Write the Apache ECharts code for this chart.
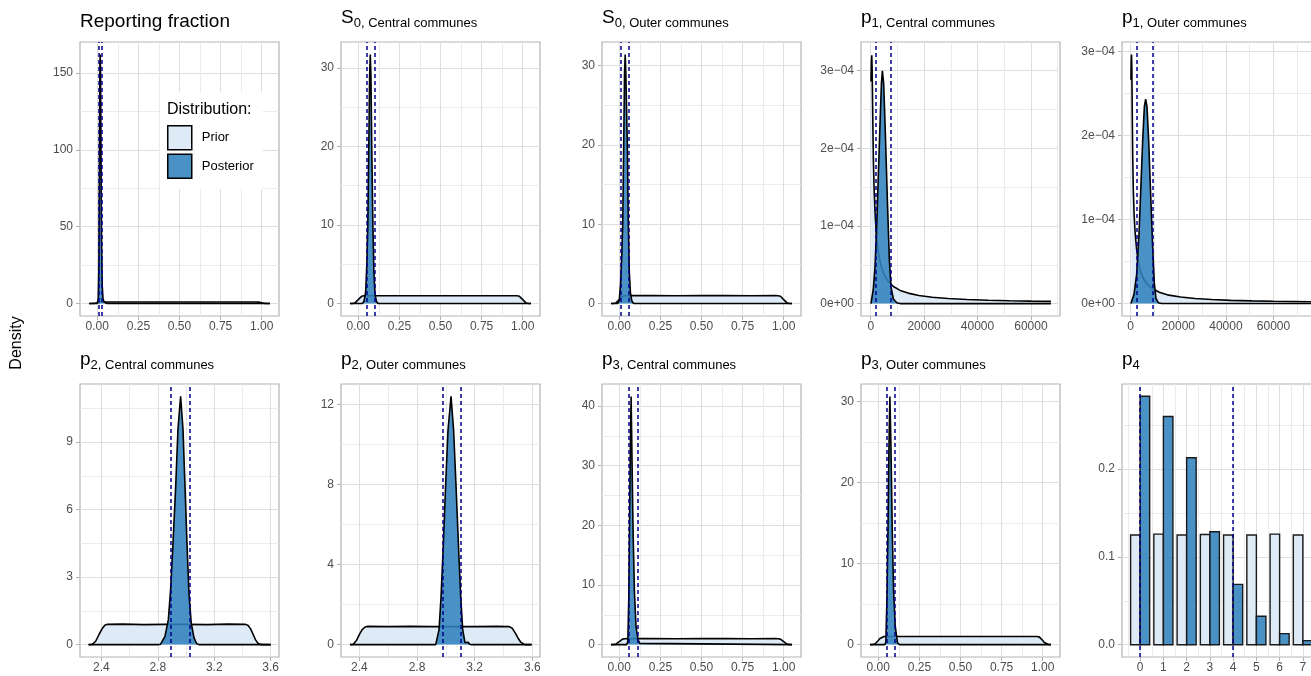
<!DOCTYPE html>
<html><head><meta charset="utf-8">
<script src="https://cdn.jsdelivr.net/npm/echarts@6/dist/echarts.min.js"></script>
<style>html,body{margin:0;padding:0;background:#fff}#c{width:1311px;height:676px}</style>
</head><body><div id="c"></div>
<script>
// ---------------- data ----------------
const priorUnit = [[-0.05,0],[-0.035,0.01],[-0.02,0.08],[-0.01,0.25],[0,0.5],[0.01,0.75],[0.02,0.92],[0.035,0.99],[0.05,1.0],[0.2,1.0],[0.35,0.99],[0.5,1.0],[0.65,1.0],[0.8,0.99],[0.95,1.0],[0.965,0.99],[0.98,0.92],[0.99,0.75],[1.0,0.5],[1.01,0.25],[1.02,0.08],[1.035,0.01],[1.05,0]];
const rfPost = [[-0.05,0],[0.0,0],[0.006,3],[0.01,25],[0.013,90],[0.016,155],[0.018,162],[0.02,150],[0.023,95],[0.026,40],[0.03,12],[0.035,3],[0.042,1],[0.05,0.3],[0.06,0],[1.05,0]];
const rfCI = [0.010, 0.030];
const s0cPost = [[-0.05,0],[0.025,0],[0.035,0.3],[0.045,1.5],[0.052,5],[0.058,10],[0.064,20],[0.069,29],[0.073,31.7],[0.077,29],[0.082,20],[0.089,10],[0.095,4],[0.102,1.2],[0.11,0.3],[0.12,0],[1.05,0]];
const s0cCI = [0.048, 0.097];
const s0oPost = [[-0.05,0],[-0.01,0],[0.0,0.4],[0.008,2.5],[0.015,6],[0.021,10],[0.027,20],[0.032,29],[0.036,31.4],[0.04,29],[0.049,20],[0.055,10],[0.061,4],[0.068,1.3],[0.077,0.3],[0.088,0],[1.05,0]];
const s0oCI = [0.015, 0.061];
const p1cPrior = [[100,2.86e-4],[250,3.12e-4],[400,3.2e-4],[550,3.0e-4],[750,2.45e-4],[1000,1.85e-4],[1300,1.45e-4],[1700,1.12e-4],[2200,0.86e-4],[3000,0.63e-4],[4000,0.47e-4],[5000,0.375e-4],[6500,0.29e-4],[8500,0.22e-4],[11000,0.17e-4],[14000,0.135e-4],[18000,0.105e-4],[23000,0.082e-4],[29000,0.065e-4],[36000,0.052e-4],[44000,0.043e-4],[52000,0.036e-4],[60000,0.031e-4],[67500,0.028e-4]];
const p1cPost = [[100,0],[400,0.01e-4],[975,0.19e-4],[1600,0.47e-4],[2240,0.99e-4],[2870,1.68e-4],[3490,2.32e-4],[4000,2.83e-4],[4360,3.0e-4],[4860,2.83e-4],[5490,2.19e-4],[6240,1.33e-4],[6990,0.56e-4],[7610,0.21e-4],[8490,0.06e-4],[9740,0.01e-4],[11000,0],[67500,0]];
const p1cCI = [1990, 7360];
const p1oPrior = [[100,2.66e-4],[220,2.9e-4],[350,2.96e-4],[480,2.8e-4],[650,2.3e-4],[850,1.75e-4],[1100,1.35e-4],[1450,1.05e-4],[1850,0.85e-4],[2500,0.64e-4],[3300,0.48e-4],[4300,0.37e-4],[5500,0.29e-4],[7000,0.23e-4],[9000,0.18e-4],[12000,0.135e-4],[16000,0.1e-4],[21000,0.077e-4],[27000,0.06e-4],[34000,0.048e-4],[42000,0.038e-4],[51000,0.032e-4],[60000,0.027e-4],[68000,0.024e-4],[76000,0.021e-4]];
const p1oPost = [[100,0],[420,0.01e-4],[1400,0.11e-4],[2520,0.35e-4],[3500,0.83e-4],[4340,1.43e-4],[5040,1.94e-4],[5740,2.34e-4],[6290,2.43e-4],[6850,2.34e-4],[7550,1.94e-4],[8390,1.3e-4],[9230,0.67e-4],[9930,0.24e-4],[10630,0.06e-4],[11600,0.01e-4],[13000,0],[76000,0]];
const p1oCI = [2660, 9230];
const p2cPrior = [[2.31,0],[2.336,0.01],[2.36,0.15],[2.384,0.45],[2.407,0.72],[2.425,0.86],[2.443,0.9],[2.55,0.91],[2.7,0.89],[2.85,0.9],[3.0,0.9],[3.15,0.89],[3.3,0.91],[3.423,0.9],[3.44,0.85],[3.458,0.7],[3.476,0.45],[3.494,0.2],[3.51,0.06],[3.529,0.01],[3.55,0],[3.6,0]];
const p2cPost = [[2.31,0],[2.8,0],[2.82,0.02],[2.851,0.37],[2.875,1.11],[2.891,2.44],[2.908,4.51],[2.927,7.03],[2.943,9.55],[2.962,11.03],[2.979,9.55],[2.993,7.03],[3.007,4.51],[3.021,2.29],[3.037,0.96],[3.057,0.3],[3.075,0.05],[3.092,0],[3.6,0]];
const p2cCI = [2.887, 3.028];
const p2oPrior = [[2.336,0],[2.358,0.02],[2.38,0.2],[2.4,0.5],[2.42,0.75],[2.44,0.88],[2.46,0.91],[2.6,0.9],[2.75,0.91],[2.9,0.9],[3.05,0.9],[3.2,0.9],[3.35,0.91],[3.44,0.9],[3.46,0.82],[3.48,0.6],[3.5,0.33],[3.52,0.12],[3.54,0.02],[3.56,0],[3.595,0]];
const p2oPost = [[2.336,0],[2.93,0],[2.937,0.05],[2.953,0.75],[2.967,2.41],[2.983,5.06],[2.999,8.05],[3.015,10.71],[3.036,12.4],[3.054,10.71],[3.07,8.05],[3.087,5.06],[3.103,2.41],[3.117,0.75],[3.133,0.1],[3.145,0.05],[3.155,0.12],[3.165,0.02],[3.18,0],[3.595,0]];
const p2oCI = [2.976, 3.098];
const p3cPost = [[-0.05,0],[0.045,0],[0.052,0.5],[0.058,8],[0.062,19],[0.066,30],[0.072,41.6],[0.078,30],[0.084,19],[0.092,9],[0.102,3],[0.114,0.8],[0.125,0.2],[0.136,0],[1.05,0]];
const p3cCI = [0.06, 0.106];
const p3oPost = [[-0.05,0],[0.04,0],[0.046,0.3],[0.053,6],[0.059,14.2],[0.065,24.5],[0.0707,30.6],[0.077,24.5],[0.085,14.2],[0.093,6.8],[0.103,2.3],[0.117,0.2],[0.13,0],[1.05,0]];
const p3oCI = [0.0505, 0.101];
const p4Values = [0, 1, 2, 3, 4, 5, 6, 7];
const p4Prior = [0.1249, 0.126, 0.125, 0.1256, 0.1249, 0.125, 0.126, 0.1249];
const p4Post = [0.283, 0.26, 0.213, 0.1286, 0.0687, 0.0325, 0.0126, 0.0046];
const p4CI = [0, 4];

// tick values / labels
const unitTicks = [0, 0.25, 0.5, 0.75, 1];
const unitTickLabels = ['0.00', '0.25', '0.50', '0.75', '1.00'];
const unitMinor = [0.125, 0.375, 0.625, 0.875];
const p1XTicks = [0, 20000, 40000, 60000];
const p1XLabels = ['0', '20000', '40000', '60000'];
const p1XMinor = [10000, 30000, 50000, 70000];
const p2XTicks = [2.4, 2.8, 3.2, 3.6];
const p2XLabels = ['2.4', '2.8', '3.2', '3.6'];
const p2XMinor = [2.6, 3.0, 3.4];
const p4XTicks = [0, 1, 2, 3, 4, 5, 6, 7];
const p4XLabels = ['0', '1', '2', '3', '4', '5', '6', '7'];
const p4XMinor = [-0.5, 0.5, 1.5, 2.5, 3.5, 4.5, 5.5, 6.5, 7.5];
const rfYTicks = [0, 50, 100, 150];
const rfYLabels = ['0', '50', '100', '150'];
const rfYMinor = [25, 75, 125];
const tenYTicks = [0, 10, 20, 30];
const tenYLabels = ['0', '10', '20', '30'];
const tenYMinor = [5, 15, 25];
const p1YTicks = [0, 1e-4, 2e-4, 3e-4];
const p1YLabels = ['0e+00', '1e\u221204', '2e\u221204', '3e\u221204'];
const p1YMinor = [0.5e-4, 1.5e-4, 2.5e-4];
const p2cYTicks = [0, 3, 6, 9];
const p2cYLabels = ['0', '3', '6', '9'];
const p2cYMinor = [1.5, 4.5, 7.5, 10.5];
const p2oYTicks = [0, 4, 8, 12];
const p2oYLabels = ['0', '4', '8', '12'];
const p2oYMinor = [2, 6, 10];
const p3cYTicks = [0, 10, 20, 30, 40];
const p3cYLabels = ['0', '10', '20', '30', '40'];
const p3cYMinor = [5, 15, 25, 35];
const p4YTicks = [0, 0.1, 0.2];
const p4YLabels = ['0.0', '0.1', '0.2'];
const p4YMinor = [0.05, 0.15, 0.25];

// ---------------- layout ----------------
const FONT = "'Liberation Sans', Arial, Helvetica, sans-serif";
const colL = [80, 341, 602, 861, 1122];
const rowT = [42, 384];
const rowH = [274, 273];
const W = 199;
const U = [-0.105, 1.105];

const panels = [
  {col:0,row:0,main:'Reporting fraction',sub:null,prior:priorUnit,post:rfPost,ci:rfCI,xr:U,yr:[-8.1,170.1],xt:unitTicks,xl:unitTickLabels,xm:unitMinor,yt:rfYTicks,yl:rfYLabels,ym:rfYMinor},
  {col:1,row:0,main:'S',sub:'0, Central communes',prior:priorUnit,post:s0cPost,ci:s0cCI,xr:U,yr:[-1.585,33.3],xt:unitTicks,xl:unitTickLabels,xm:unitMinor,yt:tenYTicks,yl:tenYLabels,ym:tenYMinor},
  {col:2,row:0,main:'S',sub:'0, Outer communes',prior:priorUnit,post:s0oPost,ci:s0oCI,xr:U,yr:[-1.57,32.97],xt:unitTicks,xl:unitTickLabels,xm:unitMinor,yt:tenYTicks,yl:tenYLabels,ym:tenYMinor},
  {col:3,row:0,main:'p',sub:'1, Central communes',prior:p1cPrior,post:p1cPost,ci:p1cCI,xr:[-3640,70900],yr:[-0.16e-4,3.37e-4],xt:p1XTicks,xl:p1XLabels,xm:p1XMinor,yt:p1YTicks,yl:p1YLabels,ym:p1YMinor},
  {col:4,row:0,main:'p',sub:'1, Outer communes',prior:p1oPrior,post:p1oPost,ci:p1oCI,xr:[-3650,79950],yr:[-0.148e-4,3.11e-4],xt:p1XTicks,xl:p1XLabels,xm:p1XMinor,yt:p1YTicks,yl:p1YLabels,ym:p1YMinor},
  {col:0,row:1,main:'p',sub:'2, Central communes',prior:p2cPrior,post:p2cPost,ci:p2cCI,xr:[2.249,3.659],yr:[-0.55,11.58],xt:p2XTicks,xl:p2XLabels,xm:p2XMinor,yt:p2cYTicks,yl:p2cYLabels,ym:p2cYMinor},
  {col:1,row:1,main:'p',sub:'2, Outer communes',prior:p2oPrior,post:p2oPost,ci:p2oCI,xr:[2.273,3.653],yr:[-0.62,13.02],xt:p2XTicks,xl:p2XLabels,xm:p2XMinor,yt:p2oYTicks,yl:p2oYLabels,ym:p2oYMinor},
  {col:2,row:1,main:'p',sub:'3, Central communes',prior:priorUnit,post:p3cPost,ci:p3cCI,xr:U,yr:[-2.08,43.7],xt:unitTicks,xl:unitTickLabels,xm:unitMinor,yt:p3cYTicks,yl:p3cYLabels,ym:p3cYMinor},
  {col:3,row:1,main:'p',sub:'3, Outer communes',prior:priorUnit,post:p3oPost,ci:p3oCI,xr:U,yr:[-1.53,32.13],xt:unitTicks,xl:unitTickLabels,xm:unitMinor,yt:tenYTicks,yl:tenYLabels,ym:tenYMinor},
  {col:4,row:1,main:'p',sub:'4',bars:true,ci:p4CI,xr:[-0.78,7.78],yr:[-0.014,0.297],xt:p4XTicks,xl:p4XLabels,xm:p4XMinor,yt:p4YTicks,yl:p4YLabels,ym:p4YMinor}
];

function fmt(ticks, labels) {
  return function (v) {
    for (let k = 0; k < ticks.length; k++) {
      if (Math.abs(ticks[k] - v) <= 1e-9 * (Math.abs(ticks[k]) + 1e-9)) return labels[k];
    }
    return '';
  };
}

const PRIOR_FILL = '#deebf7';
const POST_FILL = 'rgba(49,130,189,0.88)';
const LINE_W = 1.6;
const grids = [], xAxes = [], yAxes = [], series = [], titles = [];
const densSeries = [];
const tickColor = '#b3b3b3';
const labelStyle = {color: '#4d4d4d', fontSize: 12, fontFamily: FONT};

panels.forEach((p, i) => {
  grids.push({left: colL[p.col], top: rowT[p.row], width: W, height: rowH[p.row], show: true,
    borderColor: '#b3b3b3', borderWidth: 1.2, backgroundColor: 'transparent', containLabel: false, outerBoundsMode: 'none'});
  xAxes.push({type: 'value', gridIndex: i, min: p.xr[0], max: p.xr[1], position: 'bottom',
    axisLine: {show: false, onZero: false},
    axisTick: {show: true, customValues: p.xt, length: 4, lineStyle: {color: tickColor, width: 1}},
    axisLabel: Object.assign({show: true, customValues: p.xt, formatter: fmt(p.xt, p.xl), margin: 5, hideOverlap: false}, labelStyle),
    splitLine: {show: true, lineStyle: {color: '#dedede', width: 1}}});
  xAxes.push({type: 'value', gridIndex: i, min: p.xr[0], max: p.xr[1], position: 'top',
    axisLine: {show: false, onZero: false}, axisTick: {show: false, customValues: p.xm},
    axisLabel: {show: false}, splitLine: {show: true, lineStyle: {color: '#ebebeb', width: 1}}});
  yAxes.push({type: 'value', gridIndex: i, min: p.yr[0], max: p.yr[1], position: 'left',
    axisLine: {show: false, onZero: false},
    axisTick: {show: true, customValues: p.yt, length: 4, lineStyle: {color: tickColor, width: 1}},
    axisLabel: Object.assign({show: true, customValues: p.yt, formatter: fmt(p.yt, p.yl), margin: 7, hideOverlap: false}, labelStyle),
    splitLine: {show: true, lineStyle: {color: '#dedede', width: 1}}});
  yAxes.push({type: 'value', gridIndex: i, min: p.yr[0], max: p.yr[1], position: 'right',
    axisLine: {show: false, onZero: false}, axisTick: {show: false, customValues: p.ym},
    axisLabel: {show: false}, splitLine: {show: true, lineStyle: {color: '#ebebeb', width: 1}}});

  const ciMark = {silent: true, symbol: ['none', 'none'], label: {show: false}, animation: false,
    lineStyle: {color: '#00008b', type: [4, 3], width: 1.5},
    emphasis: {disabled: true},
    data: p.ci.map(v => ({xAxis: v}))};

  if (p.bars) {
    const mk = (vals, side, fill, name, withCI) => ({
      type: 'custom', name: name, xAxisIndex: 2 * i, yAxisIndex: 2 * i,
      itemStyle: {color: fill, borderColor: '#1a1a1a', borderWidth: 1.4},
      encode: {x: 0, y: 1}, clip: true, silent: true,
      data: p4Values.map((v, k) => [v, vals[k]]),
      renderItem: function (params, api) {
        const xv = api.value(0), yv = api.value(1);
        const a = api.coord([side < 0 ? xv - 0.41 : xv, yv]);
        const b = api.coord([side < 0 ? xv : xv + 0.41, 0]);
        return {type: 'rect', shape: {x: a[0], y: a[1], width: b[0] - a[0], height: b[1] - a[1]},
          style: {fill: fill, stroke: '#1a1a1a', lineWidth: 1.4}};
      },
      markLine: withCI ? ciMark : undefined,
      z: 2
    });
    series.unshift(mk(p4Post, 1, POST_FILL, 'Posterior', true));
    series.unshift(mk(p4Prior, -1, PRIOR_FILL, 'Prior', false));
  } else {
    densSeries.push({type: 'line', name: 'Prior', xAxisIndex: 2 * i, yAxisIndex: 2 * i, data: p.prior,
      symbol: 'none', showSymbol: false, smooth: false, silent: true, clip: true,
      lineStyle: {color: '#000', width: LINE_W}, itemStyle: {color: PRIOR_FILL},
      areaStyle: {color: PRIOR_FILL, opacity: 1}, z: 2});
    densSeries.push({type: 'line', name: 'Posterior', xAxisIndex: 2 * i, yAxisIndex: 2 * i, data: p.post,
      symbol: 'none', showSymbol: false, smooth: false, silent: true, clip: true,
      lineStyle: {color: '#000', width: LINE_W}, itemStyle: {color: POST_FILL},
      areaStyle: {color: POST_FILL, opacity: 1}, markLine: ciMark, z: 3});
  }

  const topBase = p.row === 0 ? 6.5 : 348.5;
  if (p.sub === null) {
    titles.push({left: colL[p.col], top: p.row === 0 ? 12 : 354, padding: 0, text: p.main,
      textStyle: {fontSize: 19, fontWeight: 'normal', color: '#000', fontFamily: FONT}});
  } else {
    titles.push({left: colL[p.col], top: topBase, padding: 0,
      text: '{m|' + p.main + '}{s|' + p.sub + '}',
      textStyle: {fontWeight: 'normal', color: '#000', fontFamily: FONT,
        rich: {m: {fontSize: 19, fontWeight: 'normal', color: '#000', fontFamily: FONT},
               s: {fontSize: 13, fontWeight: 'normal', color: '#000', fontFamily: FONT, padding: [10, 0, 0, 0]}}}});
  }
});
densSeries.forEach(s => series.push(s));

titles.push({left: 167, top: 101.5, padding: 0, text: 'Distribution:', z: 10,
  textStyle: {fontSize: 16, fontWeight: 'normal', color: '#000', fontFamily: FONT}});

const option = {
  animation: false,
  backgroundColor: '#fff',
  title: titles,
  grid: grids,
  xAxis: xAxes,
  yAxis: yAxes,
  legend: {
    data: ['Prior', 'Posterior'], orient: 'vertical', left: 160, top: 92,
    padding: [33, 9, 10, 7], itemGap: 3, itemWidth: 24, itemHeight: 24, icon: 'rect',
    backgroundColor: '#fff', selectedMode: false, z: 4,
    itemStyle: {borderColor: '#000', borderWidth: 1.5},
    textStyle: {fontSize: 13, color: '#000', fontFamily: FONT, padding: [0, 0, 0, 5]}
  },
  graphic: [{type: 'text', x: 17, y: 343, rotation: Math.PI / 2, z: 10,
    style: {text: 'Density', fontSize: 16, fontFamily: FONT, fill: '#000',
      align: 'center', verticalAlign: 'middle', textAlign: 'center', textVerticalAlign: 'middle'}}],
  series: series
};

const chart = echarts.init(document.getElementById('c'), null, {renderer: 'canvas'});
chart.setOption(option);
</script></body></html>
